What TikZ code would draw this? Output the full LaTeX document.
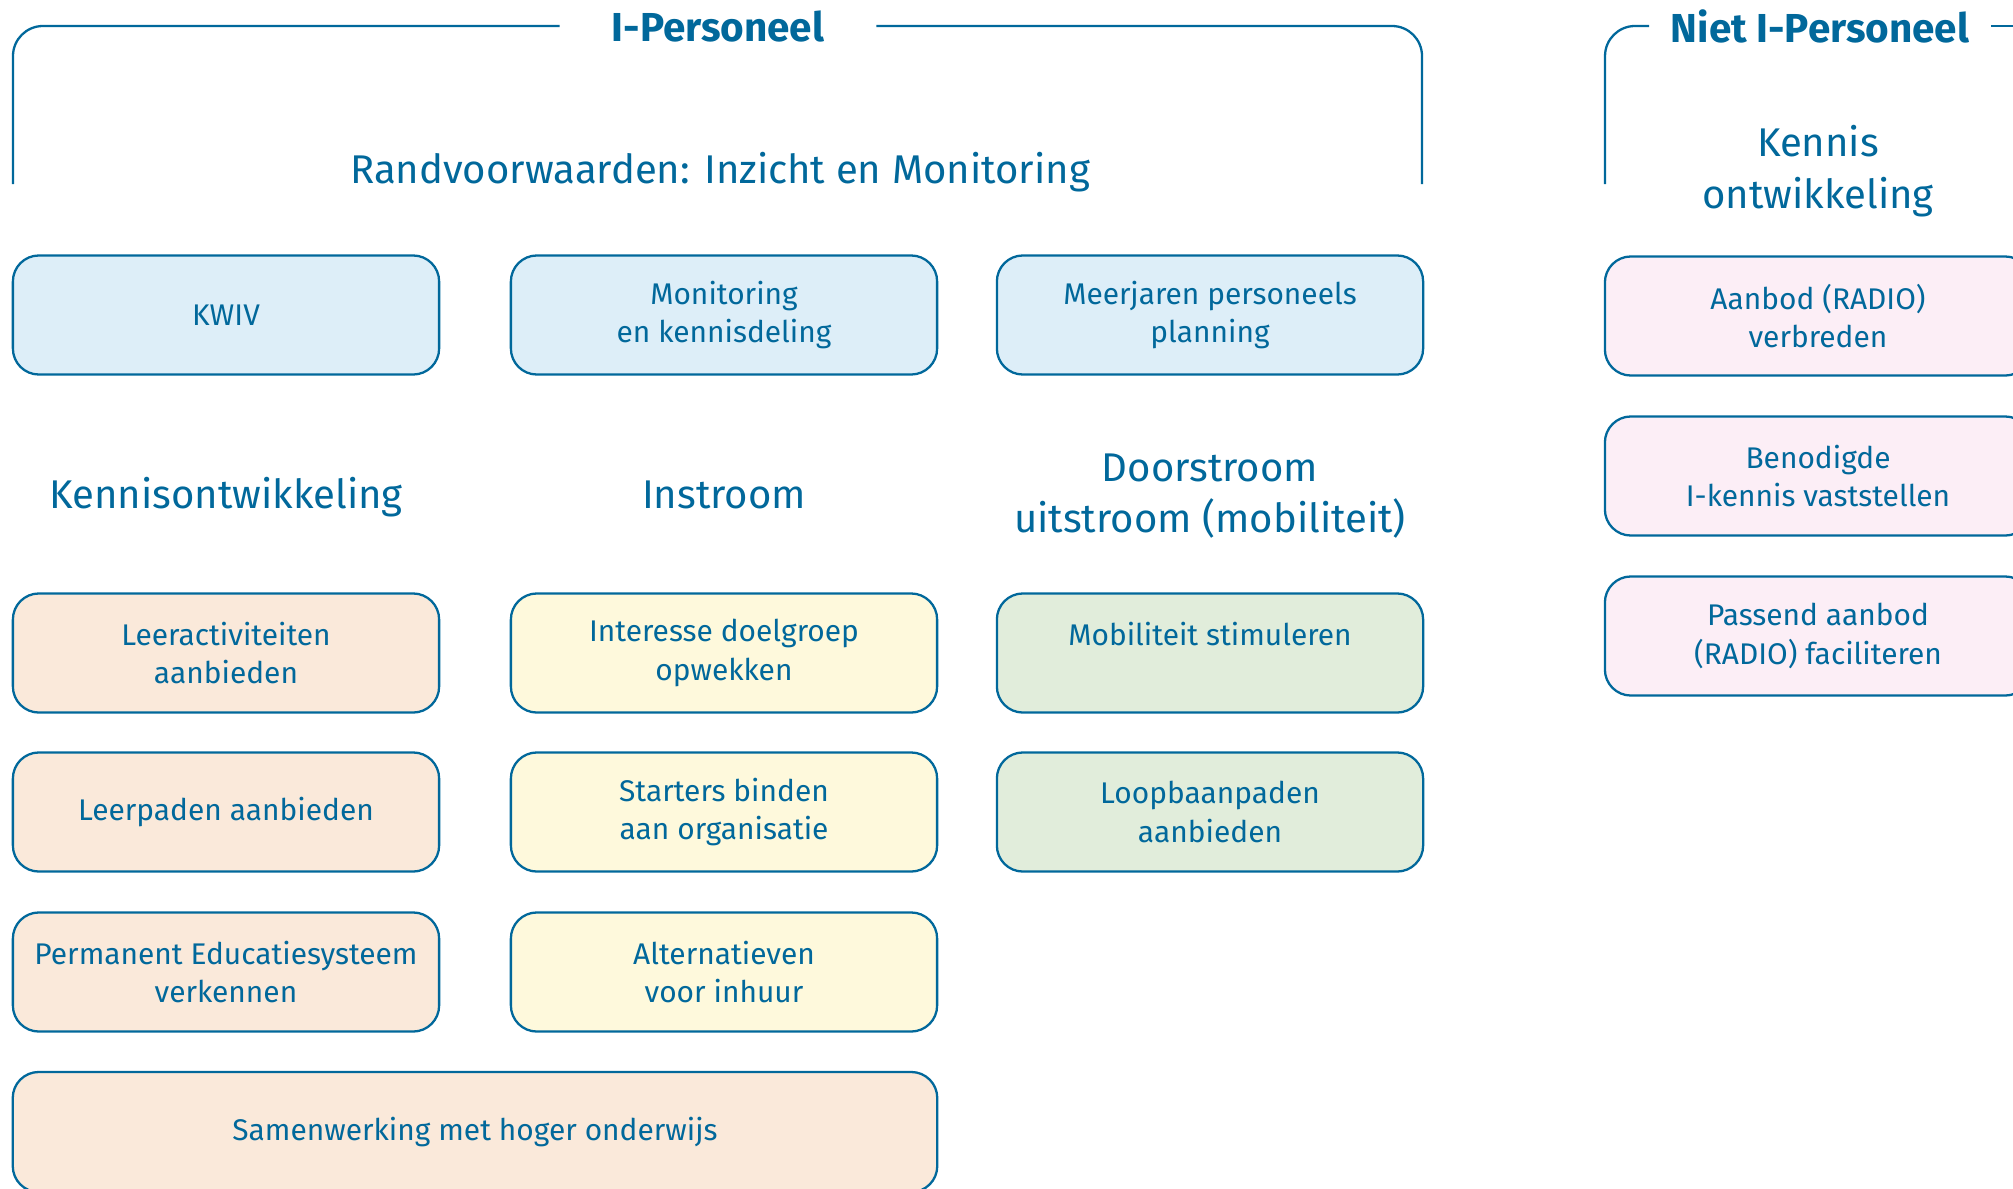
\documentclass[tikz,border=0pt]{standalone}
\usepackage{fontspec}
\setmainfont{Fira Sans}
\usetikzlibrary{positioning}
\definecolor{rijksblauw}{HTML}{01689B}
\definecolor{lichtblauw}{HTML}{DDEEF8}
\definecolor{perzik}{HTML}{FAE9DA}
\definecolor{lichtgeel}{HTML}{FEF9DC}
\definecolor{lichtgroen}{HTML}{E1EDDB}
\definecolor{lichtroze}{HTML}{FCEEF6}
\tikzset{
  actie/.style={draw=rijksblauw, line width=0.65pt, rounded corners=0.26cm,
    minimum width=4.26cm, minimum height=1.19cm, inner sep=0pt,
    align=center, text=rijksblauw, font=\fontsize{8.5}{11}\selectfont},
  kop/.style={text=rijksblauw, align=center, inner sep=0pt,
    font=\fontsize{11.4}{14.6}\selectfont},
  titel/.style={text=rijksblauw, inner sep=0pt,
    font=\fontsize{11.5}{14}\selectfont\bfseries},
  kader/.style={draw=rijksblauw, line width=0.65pt, rounded corners=0.3cm},
}

\begin{document}
\begin{tikzpicture}[x=0.01cm,y=-0.01cm]
\useasboundingbox (0,0) rectangle (2013,1188);

% titels met kaders
\node[titel, minimum width=3.15cm] (ipers) at (718,26) {I-Personeel};
\node[titel, minimum width=3.4cm] (nipers) at (1820,26) {Niet I-Personeel};
\coordinate (ilinks) at (13,184);
\coordinate (irechts) at (1422,184);
\coordinate (nlinks) at (1605,184);
\coordinate (nrechts) at (2040,26);
\draw[kader] (ipers.west) -| (ilinks);
\draw[kader] (ipers.east) -| (irechts);
\draw[kader] (nipers.west) -| (nlinks);
\draw[kader] (nipers.east) -- (nrechts);

\node[kop] (rand) at (720,172) {Randvoorwaarden: Inzicht en Monitoring};
\node[kop] (nkennis) at (1818,171) {Kennis\\ontwikkeling};

% randvoorwaarden
\node[actie, fill=lichtblauw] (kwiv) at (226,315) {KWIV};
\node[actie, fill=lichtblauw] (monitoring) at (724,315) {Monitoring\\en kennisdeling};
\node[actie, fill=lichtblauw] (meerjaren) at (1210,315) {Meerjaren personeels\\planning};

% kopjes
\node[kop] (kennis) at (226,497) {Kennisontwikkeling};
\node[kop] (instroom) at (724,495) {Instroom};
\node[kop] (doorstroom) at (1210,496) {Doorstroom\\uitstroom (mobiliteit)};

% kennisontwikkeling
\node[actie, fill=perzik] (leeract) at (226,653) {Leeractiviteiten\\aanbieden};
\node[actie, fill=perzik] (leerpaden) at (226,812) {Leerpaden aanbieden};
\node[actie, fill=perzik] (permanent) at (226,972) {Permanent Educatiesysteem\\verkennen};
\node[actie, fill=perzik, minimum width=9.24cm, minimum height=1.2cm] (samen) at (475,1132) {Samenwerking met hoger onderwijs};

% instroom
\node[actie, fill=lichtgeel] (interesse) at (724,653) {Interesse doelgroep\\opwekken};
\node[actie, fill=lichtgeel] (starters) at (724,812) {Starters binden\\aan organisatie};
\node[actie, fill=lichtgeel] (alternatief) at (724,972) {Alternatieven\\voor inhuur};

% doorstroom
\node[actie, fill=lichtgroen] (mobiliteit) at (1210,653) {Mobiliteit stimuleren\\\mbox{}};
\node[actie, fill=lichtgroen] (loopbaan) at (1210,812) {Loopbaanpaden\\aanbieden};

% niet I-personeel
\node[actie, fill=lichtroze] (aanbod) at (1818,316) {Aanbod (RADIO)\\verbreden};
\node[actie, fill=lichtroze] (benodigd) at (1818,476) {Benodigde\\I-kennis vaststellen};
\node[actie, fill=lichtroze] (passend) at (1818,636) {Passend aanbod\\(RADIO) faciliteren};
\end{tikzpicture}
\end{document}
